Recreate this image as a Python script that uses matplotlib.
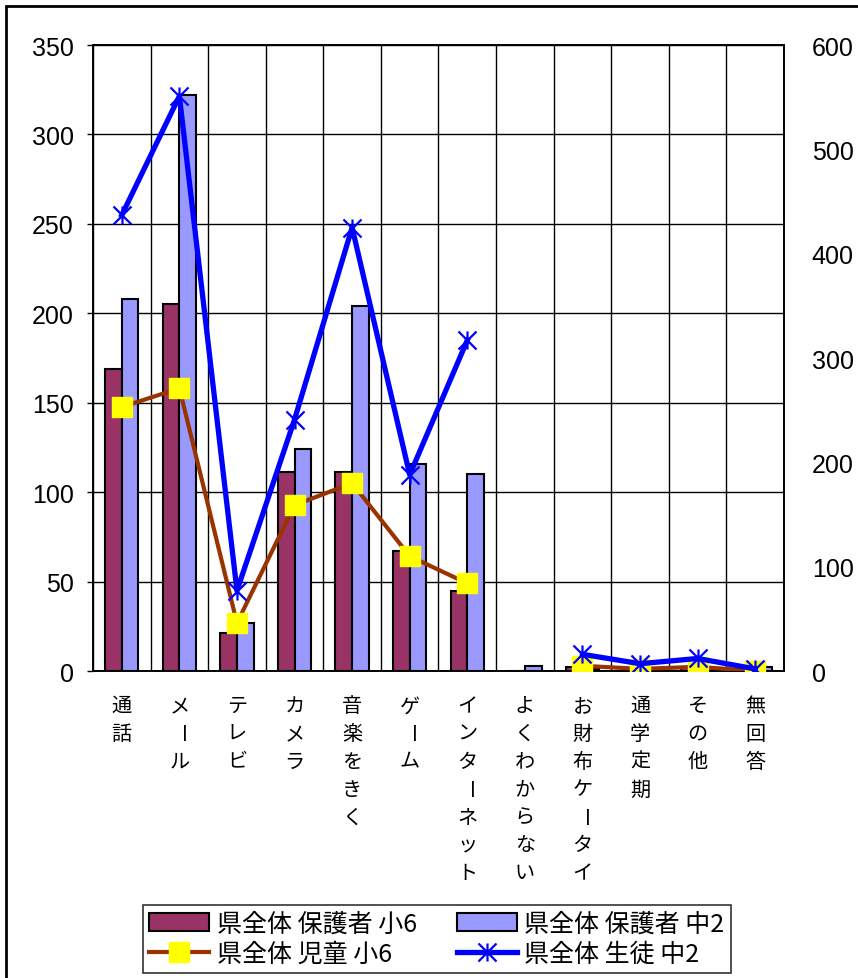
import numpy as np
import matplotlib
matplotlib.use("Agg")
import matplotlib.pyplot as plt
from matplotlib.path import Path
from matplotlib.patches import Rectangle

plt.rcParams['font.family'] = ['Liberation Sans', 'Noto Sans CJK JP', 'DejaVu Sans']

# datos
categorias = ['通話', 'メール', 'テレビ', 'カメラ', '音楽をきく', 'ゲーム', 'インターネット',
              'よくわからない', 'お財布ケータイ', '通学定期', 'その他', '無回答']
hogosha_sho6 = [169, 205, 21, 111, 111, 67, 45, 0, 2, 0, 2, 0]
hogosha_chu2 = [208, 322, 27, 124, 204, 116, 110, 3, 1, 0, 1, 2]
jidou_sho6 = [253, 271, 46, 159, 180, 110, 84, np.nan, 5, 2, 4, 0]
seito_chu2 = [437, 551, 77, 241, 425, 188, 317, np.nan, 16, 7, 12, 2]

nombres = ['県全体 保護者 小6', '県全体 保護者 中2', '県全体 児童 小6', '県全体 生徒 中2']

x = np.arange(len(categorias))
ancho = 0.29

fig = plt.figure(figsize=(8.58, 9.79), dpi=100)
ax = fig.add_axes([93/858, 1-672/979, (784-93)/858, (672-46)/979])
ax2 = ax.twinx()

b1 = ax.bar(x - ancho/2, hogosha_sho6, ancho, color='#993366', edgecolor='black', linewidth=1.5, zorder=3)
b2 = ax.bar(x + ancho/2, hogosha_chu2, ancho, color='#9999FF', edgecolor='black', linewidth=1.5, zorder=3)

estrella = Path([(0, -1), (0, 1), (-1, -1), (1, 1), (-1, 1), (1, -1)],
                [Path.MOVETO, Path.LINETO, Path.MOVETO, Path.LINETO, Path.MOVETO, Path.LINETO])

l1, = ax2.plot(x, jidou_sho6, color='#993300', linewidth=3, marker='s', markersize=14,
               markerfacecolor='#FFFF00', markeredgecolor='#FFFF00', zorder=4)
l2, = ax2.plot(x, seito_chu2, color='#0000FF', linewidth=3.8, marker=estrella, markersize=13,
               markeredgecolor='#0000FF', markeredgewidth=1.6, zorder=5)

ax.set_xlim(-0.5, len(categorias) - 0.5)
ax.set_ylim(0, 350)
ax.set_yticks(range(0, 351, 50))
ax2.set_ylim(0, 600)
ax2.set_yticks(range(0, 601, 100))

ax.set_xticks(x)
ax.set_xticklabels([])
ax.set_xticks(np.arange(-0.5, len(categorias), 1), minor=True)
ax.tick_params(axis='x', which='both', length=0)
ax.grid(True, which='minor', axis='x', color='black', linewidth=1)
ax.grid(True, which='major', axis='y', color='black', linewidth=1)
ax.set_axisbelow(True)

ax.tick_params(axis='y', labelsize=18, length=4, pad=10, width=1)
ax2.tick_params(axis='y', labelsize=18, length=0, pad=20)
for a in (ax, ax2):
    for s in a.spines.values():
        s.set_linewidth(1.2)
        s.set_color('black')

# etiquetas verticales, un caracter por linea
for i, cat in enumerate(categorias):
    for j, ch in enumerate(cat):
        ax.annotate(ch, xy=(i, 0), xycoords=('data', 'axes fraction'),
                    xytext=(0, -25 - 20*j), textcoords='offset points',
                    ha='center', va='center', fontsize=14.5, family='Noto Sans CJK JP',
                    rotation=-90 if ch == 'ー' else 0)

leg = fig.legend([b1, l1, b2, l2], [nombres[0], nombres[2], nombres[1], nombres[3]],
                 ncol=2, loc='center', bbox_to_anchor=(0.509, 0.04),
                 prop={'family': 'Noto Sans CJK JP', 'size': 18},
                 frameon=True, fancybox=False, handlelength=2.4, handletextpad=0.3,
                 columnspacing=1.6, labelspacing=0.15, borderpad=0.25)
leg.get_frame().set_edgecolor('black')
leg.get_frame().set_linewidth(1.2)

fig.patches.append(Rectangle((6/858, -0.1), 1.1, 1.1 - 7/979, transform=fig.transFigure,
                             fill=False, edgecolor='black', linewidth=2))

fig.savefig('out.png', dpi=100)
